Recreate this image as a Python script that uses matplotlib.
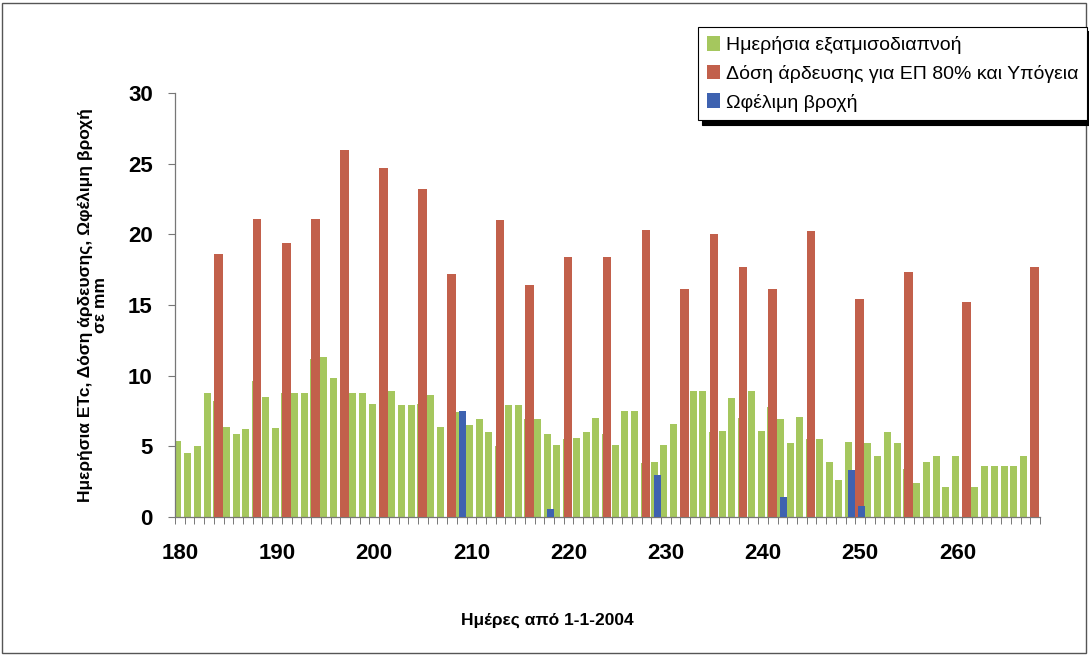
import matplotlib
matplotlib.use("Agg")
import matplotlib.pyplot as plt
import numpy as np
from matplotlib.patches import Rectangle

plt.rcParams['font.family'] = ['Liberation Sans', 'DejaVu Sans']

# ---- data ----
green_days = list(range(180, 268))
green_vals = [5.4, 4.5, 5.0, 8.8, 8.2, 6.4, 5.9, 6.2, 9.6, 8.5,
              6.3, 8.8, 8.8, 8.8, 11.2, 11.3, 9.8, 8.8, 8.8, 8.8,
              8.0, 8.8, 8.9, 7.9, 7.9, 8.0, 8.6, 6.4, 7.4, 7.4,
              6.5, 6.9, 6.0, 5.0, 7.9, 7.9, 6.9, 6.9, 5.9, 5.1,
              5.5, 5.6, 6.0, 7.0, 5.9, 5.1, 7.5, 7.5, 3.8, 3.9,
              5.1, 6.6, 6.0, 8.9, 8.9, 6.0, 6.1, 8.4, 7.0, 8.9,
              6.1, 7.8, 6.9, 5.2, 7.1, 5.5, 5.5, 3.9, 2.6, 5.3,
              5.2, 5.2, 4.3, 6.0, 5.2, 3.4, 2.4, 3.9, 4.3, 2.1,
              4.3, 2.0, 2.1, 3.6, 3.6, 3.6, 3.6, 4.3]

red_days = [184, 188, 191, 194, 197, 201, 205, 208, 213, 216, 220,
            224, 228, 232, 235, 238, 241, 245, 250, 255, 261, 268]
red_vals = [18.6, 21.1, 19.4, 21.1, 26.0, 24.7, 23.2, 17.2, 21.0, 16.4, 18.4,
            18.4, 20.3, 16.1, 20.0, 17.7, 16.1, 20.2, 15.4, 17.3, 15.2, 17.7]

blue_days = [209, 218, 229, 242, 249, 250]
blue_vals = [7.5, 0.6, 3.0, 1.4, 3.3, 0.8]

label_green = "Ημερήσια εξατμισοδιαπνοή"
label_red = "Δόση άρδευσης για ΕΠ 80% και Υπόγεια"
label_blue = "Ωφέλιμη βροχή"

c_green = '#a5c75e'
c_red = '#c2604b'
c_blue = '#3e62b0'

fig = plt.figure(figsize=(10.89, 6.57), dpi=100)
ax = fig.add_axes([0.1607, 0.2131, 0.7943, 0.6454])

gx = np.array(green_days) - 0.2
rx = np.array(red_days) - 0.05
bx = np.array(blue_days) + 0.10
ax.bar(gx, green_vals, width=0.72, color=c_green, zorder=2, label=label_green)
ax.bar(rx, red_vals, width=0.88, color=c_red, zorder=3, label=label_red)
ax.bar(bx, blue_vals, width=0.72, color=c_blue, zorder=4, label=label_blue)

ax.set_xlim(179.5, 268.5)
ax.set_ylim(0, 30)
ax.set_yticks(np.arange(0, 31, 5))
ax.set_xticks(np.arange(180, 261, 10))
ax.set_xticks(np.arange(179.5, 269, 1), minor=True)

for s in ['top', 'right']:
    ax.spines[s].set_visible(False)
for s in ['left', 'bottom']:
    ax.spines[s].set_color('#777777')
    ax.spines[s].set_linewidth(0.9)

ax.tick_params(axis='y', which='major', length=5, color='#777777', pad=11,
               labelsize=16)
ax.tick_params(axis='x', which='major', length=0, pad=19, labelsize=16)
ax.tick_params(axis='x', which='minor', length=5, color='#777777', width=0.7)
for lab in ax.get_xticklabels() + ax.get_yticklabels():
    lab.set_fontweight('bold')

ax.set_ylabel("Ημερήσια ETc, Δόση άρδευσης, Ωφέλιμη βροχή\nσε mm",
              fontsize=12.5, fontweight='bold', linespacing=1.05)
ax.yaxis.set_label_coords(-0.077, 0.5)
ax.set_xlabel("Ημέρες από 1-1-2004", fontsize=12.5, fontweight='bold')
ax.xaxis.set_label_coords(0.43, -0.225)

leg = fig.legend(loc='upper left', bbox_to_anchor=(0.641, 0.959),
                 fontsize=14, frameon=True, fancybox=False,
                 edgecolor='black', framealpha=1,
                 shadow={'color': 'black', 'alpha': 1.0, 'ox': 3, 'oy': -3},
                 handlelength=0.7, handleheight=0.8, handletextpad=0.3,
                 labelspacing=0.55, borderpad=0.45, borderaxespad=0)
leg.get_frame().set_linewidth(0.8)

fig.patches.append(Rectangle((0.002, 0.006), 0.995, 0.99, transform=fig.transFigure,
                             fill=False, edgecolor='#555555', linewidth=1.0))

fig.savefig('out.png', dpi=100)
